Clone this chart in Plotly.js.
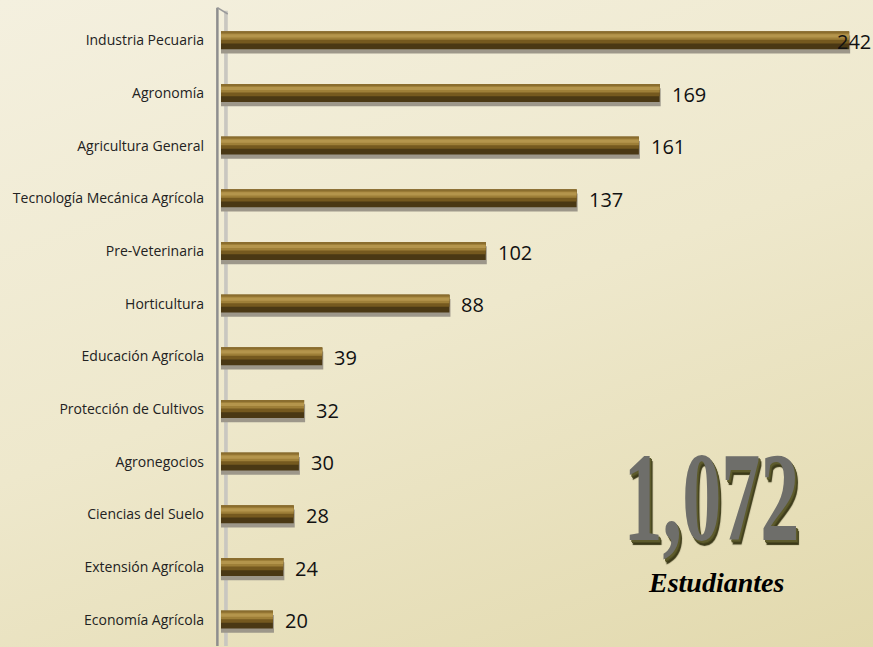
<!DOCTYPE html>
<html><head><meta charset="utf-8">
<script src="https://cdn.plot.ly/plotly-3.0.1.min.js"></script>
<style>
html,body{margin:0;padding:0;}
body{width:873px;height:647px;background:linear-gradient(160deg,#f4f0df 0%,#eee8cc 50%,#e2d9ad 100%);}
#chart{width:873px;height:647px;}
</style></head>
<body><div id="chart"></div>
<script>
var categories = ["Industria Pecuaria","Agronomía","Agricultura General","Tecnología Mecánica Agrícola","Pre-Veterinaria","Horticultura","Educación Agrícola","Protección de Cultivos","Agronegocios","Ciencias del Suelo","Extensión Agrícola","Economía Agrícola"];
var students = [242,169,161,137,102,88,39,32,30,28,24,20];
var totalLabel = "1,072";
var totalCaption = "Estudiantes";

var W = 0.34;
function layer(color, offset, width, dx) {
  return {
    type: 'bar', orientation: 'h', y: categories,
    x: students.map(function(v){ return v + (dx||0); }),
    marker: {color: color, line: {width: 0}},
    width: width, offset: offset, hoverinfo: 'skip', showlegend: false
  };
}
var traces = [
  layer('#9d978a', -W/2 + 0.08, W, 0.4),   // shadow
  layer('#4a3814', -W/2, W),               // dark base
  layer('#75591f', -W/2, 0.23),            // mid
  layer('#9e7f38', -W/2, 0.16),            // light
  layer('#b4954c', -W/2 + 0.055, 0.06),    // highlight
  layer('#8a6d2e', -W/2, 0.035)            // top edge
];

var maxV = Math.max.apply(null, students);
var annotations = students.map(function(v, i){
  var isMax = v === maxV;
  return {
    x: v, y: categories[i], xref: 'x', yref: 'y',
    text: String(v), showarrow: false,
    xanchor: isMax ? 'right' : 'left', xshift: isMax ? 24 : 10, yshift: -1,
    font: {family: 'Open Sans, sans-serif', size: 20, color: '#111'}
  };
});
annotations.push({
  xref: 'paper', yref: 'paper', x: 0.755, y: 0.235, xanchor: 'center', yanchor: 'middle',
  text: totalLabel, showarrow: false,
  font: {family: 'Liberation Serif, serif', size: 92, weight: 700, color: '#6e6e6a',
         shadow: '2px 2px 0 #5d5b2c, 3px 3px 0 #4a4820, 4px 4px 1px #3a3818'}
});
annotations.push({
  xref: 'paper', yref: 'paper', x: 0.762, y: 0.1, xanchor: 'center', yanchor: 'middle',
  text: '<b><i>' + totalCaption + '</i></b>', showarrow: false,
  font: {family: 'Liberation Serif, serif', size: 28, color: '#000'}
});

var layout = {
  width: 873, height: 647,
  margin: {l: 214, r: 0, t: 14, b: 1},
  paper_bgcolor: 'rgba(0,0,0,0)', plot_bgcolor: 'rgba(0,0,0,0)',
  barmode: 'overlay',
  xaxis: {range: [-2.7, 251.2], visible: false, fixedrange: true},
  yaxis: {type: 'category', autorange: 'reversed', showgrid: false, zeroline: false,
          showline: false, ticks: '', ticklabelstandoff: 9,
          tickfont: {family: 'Open Sans, sans-serif', size: 14, color: '#222'}},
  shapes: [
    {type: 'rect', xref: 'x', yref: 'paper', x0: 1.2, x1: 2.6, y0: 0, y1: 1.005,
     fillcolor: '#c9c7c0', line: {width: 0}, layer: 'below'},
    {type: 'line', xref: 'x', yref: 'paper', x0: -1.4, x1: -1.4, y0: 0, y1: 1.01,
     line: {color: '#8e8e8e', width: 2.5}, layer: 'below'},
    {type: 'line', xref: 'x', yref: 'paper', x0: -1.4, x1: 2.6, y0: 1.01, y1: 1.0,
     line: {color: '#9a9a9a', width: 1.5}, layer: 'below'}
  ],
  annotations: annotations,
  showlegend: false
};
Plotly.newPlot('chart', traces, layout, {displayModeBar: false, staticPlot: true}).then(function(gd){
  // condense the big total number to match the tall, narrow lettering
  var groups = gd.querySelectorAll('.annotation');
  groups.forEach(function(g){
    var t = g.querySelector('text');
    if (t && t.textContent === totalLabel) {
      var bb = g.getBBox();
      var cx = bb.x + bb.width/2, cy = bb.y + bb.height/2;
      var sx = 0.85, sy = 1.38;
      g.setAttribute('transform', 'translate(' + cx + ',' + cy + ') scale(' + sx + ',' + sy + ') translate(' + (-cx) + ',' + (-cy) + ')');
    }
  });
});
</script></body></html>
